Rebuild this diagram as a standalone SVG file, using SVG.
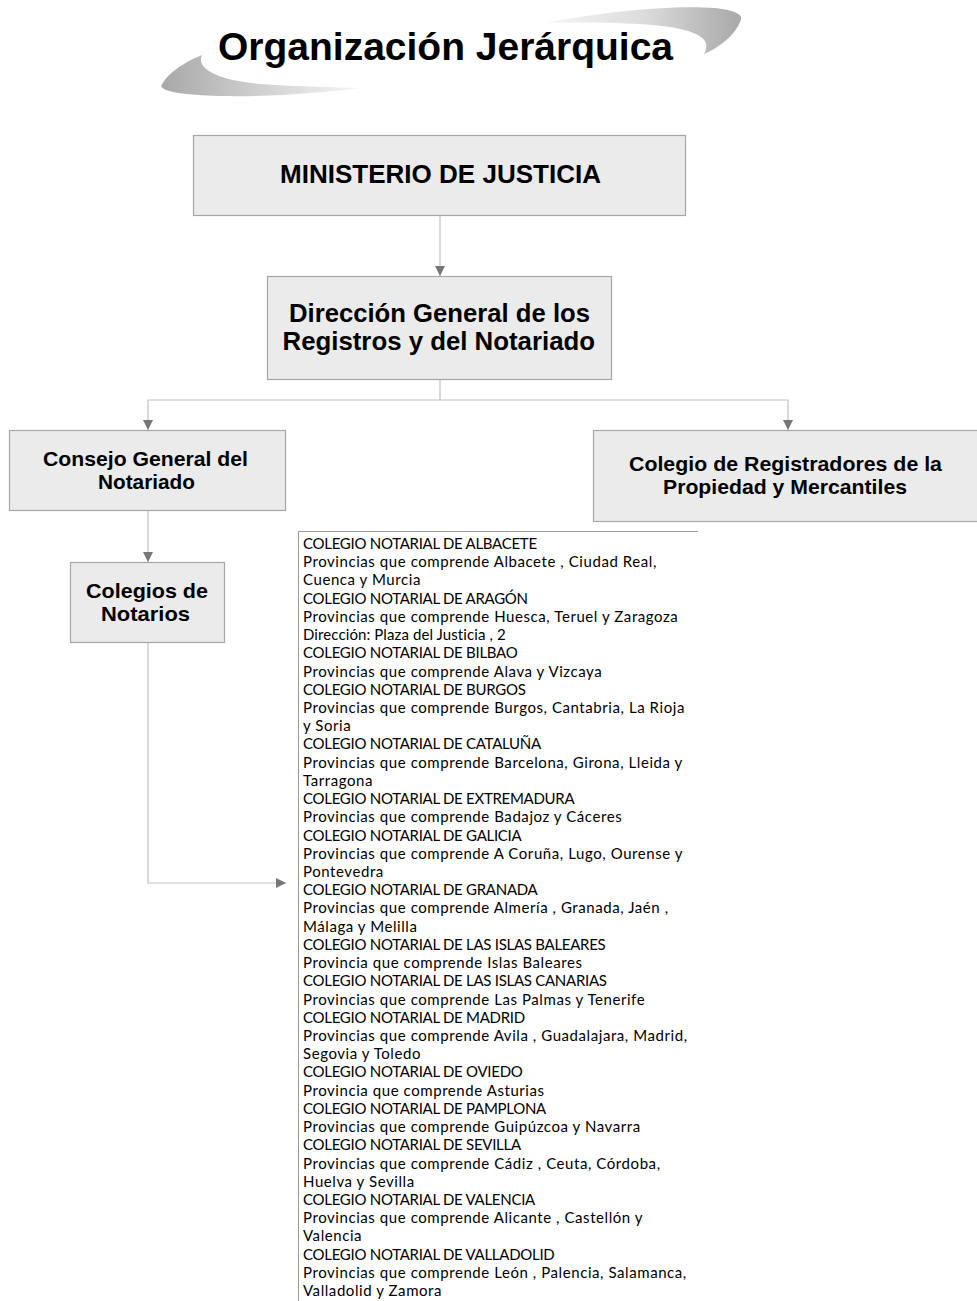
<svg xmlns="http://www.w3.org/2000/svg" width="977" height="1301" viewBox="0 0 977 1301">
<style>
.box{fill:#ebebeb;stroke:#a6a6a6;stroke-width:1.2}
.bt{font-family:"Liberation Sans",Arial,sans-serif;font-weight:bold;fill:#000}
.con{fill:none;stroke:#c0c0c0;stroke-width:1.2}
.lst{font-family:Lato,"Open Sans",sans-serif;font-size:15px;fill:#000;letter-spacing:-0.28px}
.lc{letter-spacing:0.57px}
</style>
<defs>
<marker id="ah" markerWidth="10" markerHeight="10" refX="10" refY="5" orient="auto" markerUnits="userSpaceOnUse">
<path d="M0,0 L10,5 L0,10 Z" fill="#777"/>
</marker>
<linearGradient id="g1" x1="0" y1="0" x2="1" y2="0">
<stop offset="0" stop-color="#a8a8a8"/>
<stop offset="0.6" stop-color="#d8d8d8"/>
<stop offset="1" stop-color="#f6f6f6"/>
</linearGradient>
<linearGradient id="g2" x1="0" y1="0" x2="1" y2="0">
<stop offset="0" stop-color="#f6f6f6"/>
<stop offset="0.5" stop-color="#dcdcdc"/>
<stop offset="1" stop-color="#a8a8a8"/>
</linearGradient>
</defs>
<g id="title">
<path d="M161,86 C168,72 185,62 202,55 C196,68 215,80 260,84 C300,87 335,87 360,88 C320,93 270,97 220,96 C185,95 163,92 161,86 Z" fill="url(#g1)"/>
<path d="M546,23 C600,12 670,5 715,8 C735,10 745,15 740,22 C735,35 720,47 704,54 C712,40 700,32 670,27 C630,22 585,22 546,23 Z" fill="url(#g2)"/>
<text x="218" y="60" class="bt" font-size="39" textLength="455" lengthAdjust="spacingAndGlyphs">Organización Jerárquica</text>
</g>
<g id="connectors">
<line class="con" x1="440" y1="215" x2="440" y2="276" marker-end="url(#ah)"/>
<polyline class="con" points="440,380 440,400 148,400 148,430" marker-end="url(#ah)"/>
<polyline class="con" points="440,400 788,400 788,430" marker-end="url(#ah)"/>
<line class="con" x1="148" y1="511" x2="148" y2="562" marker-end="url(#ah)"/>
<polyline class="con" points="148,643 148,883 286,883" marker-end="url(#ah)"/>
</g>
<g id="n-ministerio">
<rect class="box" x="193.5" y="135.5" width="492" height="80"/>
<text x="280" y="183" class="bt" font-size="26" textLength="321" lengthAdjust="spacingAndGlyphs">MINISTERIO DE JUSTICIA</text>
</g>
<g id="n-direccion">
<rect class="box" x="267.5" y="276.5" width="344" height="103"/>
<text x="289" y="322" class="bt" font-size="25.5" textLength="301" lengthAdjust="spacingAndGlyphs">Dirección General de los</text>
<text x="282.5" y="350" class="bt" font-size="25.5" textLength="312.5" lengthAdjust="spacingAndGlyphs">Registros y del Notariado</text>
</g>
<g id="n-consejo">
<rect class="box" x="9.5" y="430.5" width="276" height="80"/>
<text x="43" y="466" class="bt" font-size="21" textLength="205" lengthAdjust="spacingAndGlyphs">Consejo General del</text>
<text x="98" y="489" class="bt" font-size="21" textLength="97" lengthAdjust="spacingAndGlyphs">Notariado</text>
</g>
<g id="n-registradores">
<rect class="box" x="593.5" y="430.5" width="390" height="91"/>
<text x="629" y="471" class="bt" font-size="21" textLength="313" lengthAdjust="spacingAndGlyphs">Colegio de Registradores de la</text>
<text x="663" y="494" class="bt" font-size="21" textLength="244" lengthAdjust="spacingAndGlyphs">Propiedad y Mercantiles</text>
</g>
<g id="n-colegios">
<rect class="box" x="70.5" y="562.5" width="154" height="80"/>
<text x="86" y="598" class="bt" font-size="21" textLength="122" lengthAdjust="spacingAndGlyphs">Colegios de</text>
<text x="101" y="621" class="bt" font-size="21" textLength="89" lengthAdjust="spacingAndGlyphs">Notarios</text>
</g>
<g id="n-lista" class="lst">
<polyline points="298.5,1301 298.5,531.5 698,531.5" fill="none" stroke="#999" stroke-width="1"/>
<text x="303" y="549">COLEGIO NOTARIAL DE ALBACETE</text>
<text x="303" y="567.2" class="lc">Provincias que comprende Albacete , Ciudad Real,</text>
<text x="303" y="585.4" class="lc">Cuenca y Murcia</text>
<text x="303" y="603.7">COLEGIO NOTARIAL DE ARAGÓN</text>
<text x="303" y="621.9" class="lc">Provincias que comprende Huesca, Teruel y Zaragoza</text>
<text x="303" y="640.1" letter-spacing="0.1">Dirección: Plaza del Justicia , 2</text>
<text x="303" y="658.3">COLEGIO NOTARIAL DE BILBAO</text>
<text x="303" y="676.5" class="lc">Provincias que comprende Alava y Vizcaya</text>
<text x="303" y="694.8">COLEGIO NOTARIAL DE BURGOS</text>
<text x="303" y="713" class="lc">Provincias que comprende Burgos, Cantabria, La Rioja</text>
<text x="303" y="731.2" class="lc">y Soria</text>
<text x="303" y="749.4">COLEGIO NOTARIAL DE CATALUÑA</text>
<text x="303" y="767.6" class="lc">Provincias que comprende Barcelona, Girona, Lleida y</text>
<text x="303" y="785.9" class="lc">Tarragona</text>
<text x="303" y="804.1">COLEGIO NOTARIAL DE EXTREMADURA</text>
<text x="303" y="822.3" class="lc">Provincias que comprende Badajoz y Cáceres</text>
<text x="303" y="840.5">COLEGIO NOTARIAL DE GALICIA</text>
<text x="303" y="858.7" class="lc">Provincias que comprende A Coruña, Lugo, Ourense y</text>
<text x="303" y="877" class="lc">Pontevedra</text>
<text x="303" y="895.2">COLEGIO NOTARIAL DE GRANADA</text>
<text x="303" y="913.4" class="lc">Provincias que comprende Almería , Granada, Jaén ,</text>
<text x="303" y="931.6" class="lc">Málaga y Melilla</text>
<text x="303" y="949.8">COLEGIO NOTARIAL DE LAS ISLAS BALEARES</text>
<text x="303" y="968.1" class="lc">Provincia que comprende Islas Baleares</text>
<text x="303" y="986.3">COLEGIO NOTARIAL DE LAS ISLAS CANARIAS</text>
<text x="303" y="1004.5" class="lc">Provincias que comprende Las Palmas y Tenerife</text>
<text x="303" y="1022.7">COLEGIO NOTARIAL DE MADRID</text>
<text x="303" y="1040.9" class="lc">Provincias que comprende Avila , Guadalajara, Madrid,</text>
<text x="303" y="1059.2" class="lc">Segovia y Toledo</text>
<text x="303" y="1077.4">COLEGIO NOTARIAL DE OVIEDO</text>
<text x="303" y="1095.6" class="lc">Provincia que comprende Asturias</text>
<text x="303" y="1113.8">COLEGIO NOTARIAL DE PAMPLONA</text>
<text x="303" y="1132" class="lc">Provincias que comprende Guipúzcoa y Navarra</text>
<text x="303" y="1150.3">COLEGIO NOTARIAL DE SEVILLA</text>
<text x="303" y="1168.5" class="lc">Provincias que comprende Cádiz , Ceuta, Córdoba,</text>
<text x="303" y="1186.7" class="lc">Huelva y Sevilla</text>
<text x="303" y="1204.9">COLEGIO NOTARIAL DE VALENCIA</text>
<text x="303" y="1223.1" class="lc">Provincias que comprende Alicante , Castellón y</text>
<text x="303" y="1241.4" class="lc">Valencia</text>
<text x="303" y="1259.6">COLEGIO NOTARIAL DE VALLADOLID</text>
<text x="303" y="1277.8" class="lc">Provincias que comprende León , Palencia, Salamanca,</text>
<text x="303" y="1296" class="lc">Valladolid y Zamora</text>
</g>
</svg>
